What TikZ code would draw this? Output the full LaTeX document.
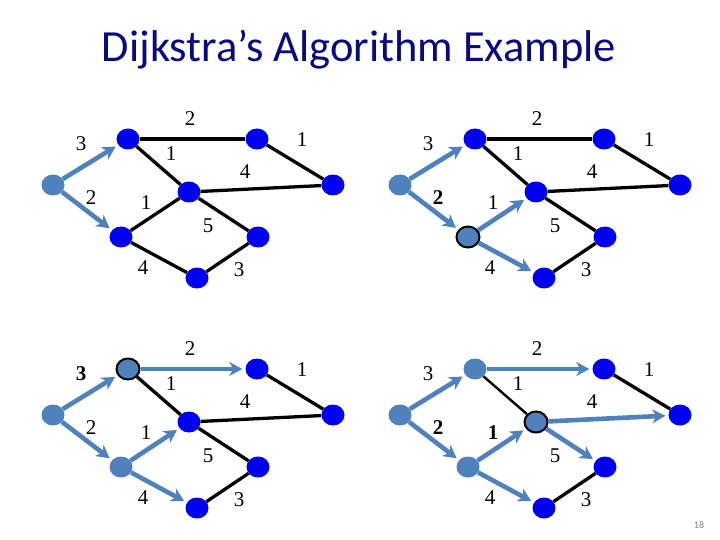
\documentclass[tikz,border=0pt]{standalone}
\usepackage{fontspec}
\setmainfont{Liberation Serif}
\newfontfamily\calibri{Carlito}
\usetikzlibrary{arrows.meta,shapes.geometric}
\definecolor{titleblue}{RGB}{10,10,128}
\definecolor{vblue}{RGB}{0,0,240}
\definecolor{done}{RGB}{79,129,189}
\tikzset{
vtx/.style={ellipse,fill=vblue,minimum width=23pt,minimum height=21pt,inner sep=0pt},
seen/.style={vtx,fill=done},
cur/.style={seen,draw=black,line width=2pt},
edge/.style={line width=3.3pt,black},
tree/.style={line width=4.6pt,done,-{Stealth[length=13pt,width=14pt,inset=4pt]},shorten >=3pt},
wt/.style={font=\fontsize{21}{24}\selectfont,inner sep=0pt},
hl/.style={font=\fontsize{21}{24}\selectfont\bfseries}
}
\begin{document}
\begin{tikzpicture}[x=1pt,y=-1pt]
\useasboundingbox[fill=white] (0,0) rectangle (720,540);
\node[titleblue,font=\calibri\fontsize{44.5}{48}\selectfont,anchor=base] (title) at (359,62) {Dijkstra’s Algorithm Example};
\foreach \dx/\dy/\kind in {0/0/0,347/0/1,0/230/2,347/230/3}{
\begin{scope}[shift={(\dx,\dy)}]
\ifcase\kind
\tikzset{dsty/.style=vtx,asty/.style=vtx,msty/.style=vtx,dout/.style=edge,aout/.style=edge,mout/.style=edge,amw/.style={},b3/.style={},b2/.style={},b1/.style={}}
\or
\tikzset{dsty/.style=cur,asty/.style=vtx,msty/.style=vtx,dout/.style=tree,aout/.style=edge,mout/.style=edge,amw/.style={},b3/.style={},b2/.style=hl,b1/.style={}}
\or
\tikzset{dsty/.style=seen,asty/.style=cur,msty/.style=vtx,dout/.style=tree,aout/.style=tree,mout/.style=edge,amw/.style={},b3/.style=hl,b2/.style={},b1/.style={}}
\else
\tikzset{dsty/.style=seen,asty/.style=seen,msty/.style=cur,dout/.style=tree,aout/.style=tree,mout/.style=tree,amw/.style={line width=2.4pt},b3/.style={},b2/.style=hl,b1/.style=hl}
\fi
% vertices
\node[seen] (s) at (53,185) {};
\node[asty] (a) at (128,139) {};
\node[vtx] (b) at (257,139) {};
\node[vtx] (c) at (333,185) {};
\node[msty] (m) at (189,192) {};
\node[dsty] (d) at (121,237) {};
\node[vtx] (e) at (258,237) {};
\node[vtx] (f) at (197,278) {};
% edges
\draw[edge,amw] (a) -- (m);
\draw[edge] (b) -- (c);
\draw[edge] (e) -- (f);
\draw[aout] (a) -- (b);
\draw[dout] (d) -- (m);
\draw[dout] (d) -- (f);
\draw[mout] (m) -- (c);
\draw[mout] (m) -- (e);
\draw[tree] (s) -- (a);
\draw[tree] (s) -- (d);
% weights
\node[wt,b3] (wsa) at (81,144) {3};
\node[wt,b2] (wsd) at (91,198) {2};
\node[wt] (wab) at (190,119) {2};
\node[wt] (wam) at (171,154) {1};
\node[wt] (wbc) at (302,140) {1};
\node[wt] (wmc) at (245,172) {4};
\node[wt,b1] (wdm) at (146,203) {1};
\node[wt] (wme) at (208,226) {5};
\node[wt] (wdf) at (143,268) {4};
\node[wt] (wef) at (239,270) {3};
\end{scope}}
\node[gray,font=\calibri\fontsize{10}{11}\selectfont] (page) at (699,525) {18};
\end{tikzpicture}
\end{document}
